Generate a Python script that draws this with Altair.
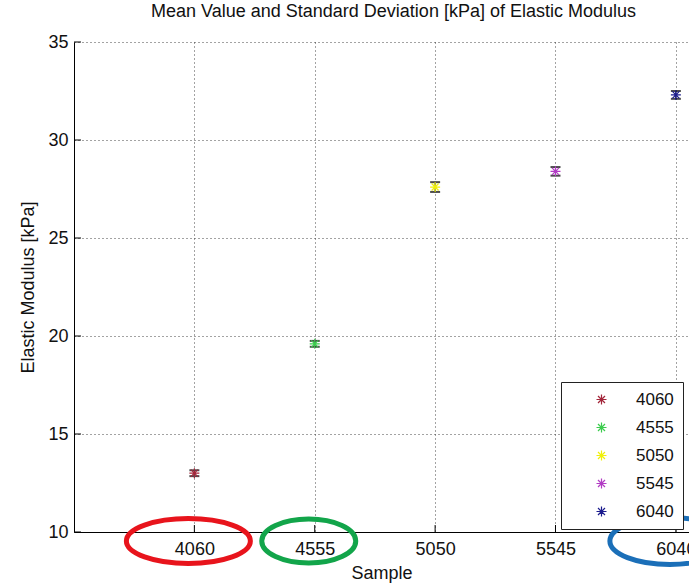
import altair as alt
import pandas as pd

# Mean elastic modulus per sample with its standard deviation (kPa)
samples = [4060, 4555, 5050, 5545, 6040]
sample_labels = ["4060", "4555", "5050", "5545", "6040"]
mean_kpa = [13.0, 19.6, 27.6, 28.4, 32.3]
sd_kpa = [0.15, 0.15, 0.25, 0.22, 0.2]
y_ticks = [10, 15, 20, 25, 30, 35]

marker_colors = ["#a3263a", "#3ccc4e", "#f0f00a", "#b23cc4", "#1c1c8e"]

FONT = "Liberation Sans"

df = pd.DataFrame({"sample": samples, "label": sample_labels,
                   "mean": mean_kpa, "sd": sd_kpa})
df["lo"] = df["mean"] - df["sd"]
df["hi"] = df["mean"] + df["sd"]
ticks_df = pd.DataFrame({"v": y_ticks})

x_scale = alt.Scale(domain=[3565, 6094], nice=False, zero=False)
y_scale = alt.Scale(domain=[10, 35], nice=False, zero=False)

x_axis = alt.Axis(values=samples, format="d", grid=True, ticks=False,
                  labelPadding=8, titlePadding=6)
y_axis = alt.Axis(values=y_ticks, grid=True, ticks=False,
                  labelPadding=6, titlePadding=10)

x_enc = alt.X("sample:Q", scale=x_scale, axis=x_axis, title="Sample")


def y_enc(field):
    return alt.Y(f"{field}:Q", scale=y_scale, axis=y_axis,
                 title="Elastic Modulus [kPa]")


# asterisk marker (plus + cross)
STAR = "M-1,0L1,0M0,-1L0,1M-0.7,-0.7L0.7,0.7M-0.7,0.7L0.7,-0.7"


def ellipse_path(ry_over_rx, shift):
    k = 0.5523
    e = ry_over_rx
    s = shift
    return (f"M{-1 + s},0 C{-1 + s},{-e * k} {-k + s},{-e} {s},{-e} "
            f"C{k + s},{-e} {1 + s},{-e * k} {1 + s},0 "
            f"C{1 + s},{e * k} {k + s},{e} {s},{e} "
            f"C{-k + s},{e} {-1 + s},{e * k} {-1 + s},0 Z")


base = alt.Chart(df)

bars = base.mark_rule(color="black", strokeWidth=1).encode(
    x=x_enc, y=y_enc("lo"), y2="hi:Q")
cap_lo = base.mark_tick(orient="horizontal", size=10, thickness=2,
                        color="black").encode(x=x_enc, y=y_enc("lo"))
cap_hi = base.mark_tick(orient="horizontal", size=10, thickness=2,
                        color="black").encode(x=x_enc, y=y_enc("hi"))

stars = base.mark_point(shape=STAR, size=100, filled=False, strokeWidth=1.2,
                        opacity=1).encode(
    x=x_enc, y=y_enc("mean"),
    color=alt.Color("label:N",
                    scale=alt.Scale(domain=sample_labels, range=marker_colors),
                    legend=alt.Legend(
                        title=None, orient="none", legendX=487, legendY=340,
                        strokeColor="#222", fillColor="white", padding=9,
                        symbolType=STAR, symbolSize=100, symbolStrokeWidth=1.2,
                        symbolOffset=23, labelOffset=26, rowPadding=10,
                        labelFont=FONT, labelFontSize=17, labelColor="#111",
                        cornerRadius=0)))

# inward axis ticks
x_ticks = base.mark_rule(color="black").encode(
    x=x_enc, y=alt.value(490), y2=alt.value(483))
y_ticks_layer = alt.Chart(ticks_df).mark_rule(color="black").encode(
    y=y_enc("v"), x=alt.value(0), x2=alt.value(7))

# highlight rings around selected sample labels
ring_styles = {
    "4060": ("#e8141c", 62, 22.5),
    "4555": ("#12a54a", 47, 22.0),
    "6040": ("#1b6fb8", 60, 23.5),
}
rings = []
for lab, (col, rx, ry) in ring_styles.items():
    rings.append(
        base.transform_filter(alt.datum.label == lab)
        .mark_point(shape=ellipse_path(ry / rx, -6 / rx), size=(2 * rx) ** 2,
                    filled=False, stroke=col, strokeWidth=5, opacity=1)
        .encode(x=x_enc, y=alt.value(499))
    )

chart = alt.layer(bars, cap_lo, cap_hi, stars, x_ticks, y_ticks_layer,
                  *rings).properties(
    width=615, height=490,
    title=alt.TitleParams("Mean Value and Standard Deviation [kPa] of Elastic Modulus",
                          font=FONT, fontSize=18, fontWeight="normal",
                          color="#111", offset=12, dx=12),
    autosize=alt.AutoSizeParams(type="none"),
    padding={"left": 74, "top": 42, "right": 0, "bottom": 53},
).configure_view(stroke=None).configure_axis(
    domainColor="black", domainWidth=1,
    gridColor="#333", gridDash=[1, 3], gridOpacity=0.9, gridWidth=1,
    labelFont=FONT, labelFontSize=18, labelColor="#111",
    titleFont=FONT, titleFontSize=18, titleFontWeight="normal", titleColor="#111",
)

chart.save("out.html", embed_options={"renderer": "svg", "actions": False})
